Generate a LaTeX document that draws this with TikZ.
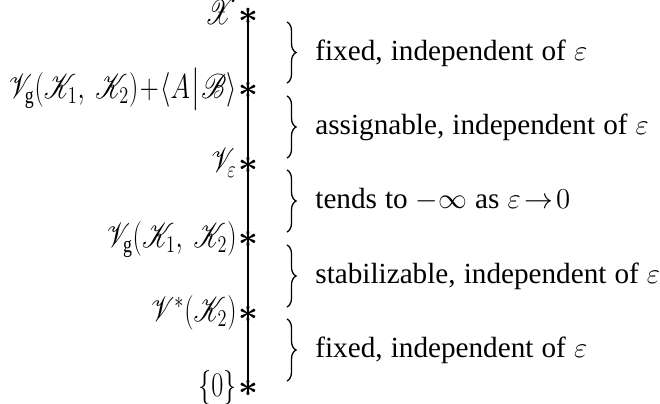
\documentclass[tikz,border=0pt]{standalone}
\usepackage{amsmath}
\usepackage{graphicx}
\usepackage{mathrsfs}
\usepackage{fontspec}
\setmainfont{Liberation Serif}
\usetikzlibrary{decorations.pathreplacing}
\newcommand{\squeezelab}[1]{\scalebox{0.76}[1]{#1}}
\newcommand{\widesp}{\spaceskip=\dimexpr\fontdimen2\font+0.4pt\relax}
\begin{document}
\begin{tikzpicture}[x=0.5pt,y=-0.5pt,
  every node/.style={font=\fontsize{14.6}{18}\selectfont},
  starmark/.style={inner sep=0pt,anchor=center,font=\fontsize{19}{19}\selectfont},
  leftlab/.style={anchor=base east,inner sep=0pt,font=\fontsize{16.8}{19}\selectfont},
  rightlab/.style={anchor=base west,inner sep=0pt,font=\fontsize{14.6}{18}\selectfont\widesp},
  bracepath/.style={decorate,decoration={brace,amplitude=4.5pt},line width=0.65pt},
  axis/.style={line width=0.6pt}]
\useasboundingbox (0,0) rectangle (660,403);
\coordinate (top) at (248,13);
\coordinate (bot) at (248,391);
\draw[axis] (top) -- (bot);
\foreach \i/\yy in {0/16,1/90.5,2/165,3/239.5,4/314,5/388}{
  \node[starmark] (s\i) at (248,\yy) {$\boldsymbol{\ast}$};
}
\node[leftlab] (l0) at (237,24) {\squeezelab{$\mathscr{X}$}};
\node[leftlab] (l1) at (237,98) {\squeezelab{$\mathscr{V}_{\mathrm{g}}(\mathscr{K}_1,\ \mathscr{K}_2)\mkern1mu{+}\mkern1mu\langle A\mkern1mu\big|\mkern1mu\mathscr{B}\rangle$}};
\node[leftlab] (l2) at (237,172) {\squeezelab{$\mathscr{V}_{\varepsilon}$}};
\node[leftlab] (l3) at (237,247) {\squeezelab{$\mathscr{V}_{\mathrm{g}}(\mathscr{K}_1,\ \mathscr{K}_2)$}};
\node[leftlab] (l4) at (237,321) {\squeezelab{$\mathscr{V}^{*}(\mathscr{K}_2)$}};
\node[leftlab] (l5) at (237,396) {\squeezelab{$\{0\}$}};
\foreach \i/\ya/\yb in {0/22/83,1/96/158,2/170/232,3/245/307,4/319/381}{
  \coordinate (ba\i) at (287,\ya);
  \coordinate (bb\i) at (287,\yb);
  \draw[bracepath] (ba\i) -- (bb\i);
}
\node[rightlab] (t0) at (315,60) {fixed, independent of $\varepsilon$};
\node[rightlab] (t1) at (315,134) {assignable, independent of $\varepsilon$};
\node[rightlab] (t2) at (315,208) {tends to $-\infty$ as $\varepsilon\mkern2mu{\to}\mkern2mu0$};
\node[rightlab] (t3) at (315,283) {stabilizable, independent of $\varepsilon$};
\node[rightlab] (t4) at (315,357) {fixed, independent of $\varepsilon$};
\end{tikzpicture}
\end{document}
